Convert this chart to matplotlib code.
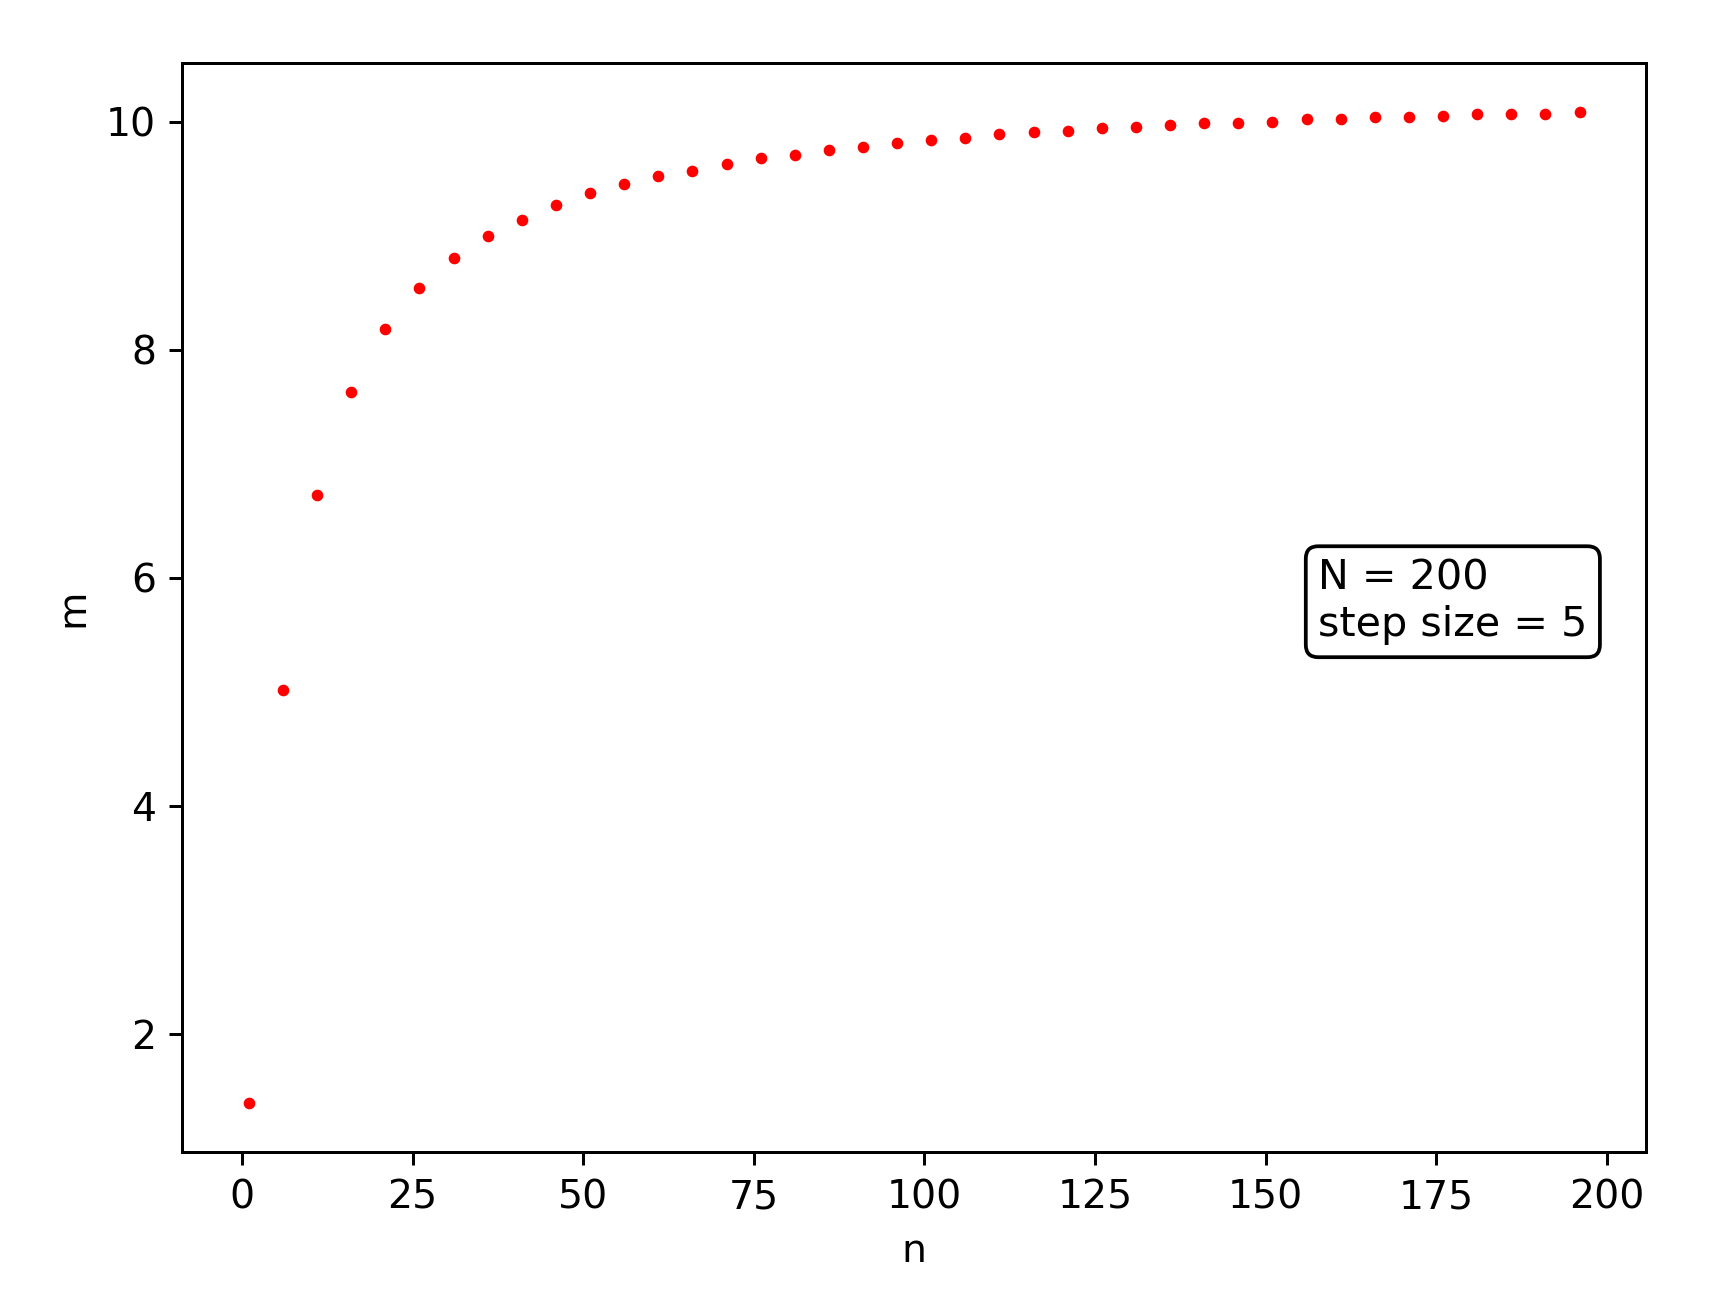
import matplotlib
matplotlib.use("Agg")
import matplotlib.pyplot as plt

n_values = list(range(1, 200, 5))
m_values = [1.4, 5.02, 6.73, 7.63, 8.18, 8.54, 8.8, 9.0, 9.14, 9.27, 9.37, 9.45, 9.52, 9.57,
            9.63, 9.68, 9.71, 9.75, 9.78, 9.81, 9.84, 9.86, 9.89, 9.91, 9.92, 9.94, 9.95,
            9.97, 9.99, 9.99, 10.0, 10.02, 10.02, 10.04, 10.04, 10.05, 10.07, 10.07, 10.07, 10.08]

dpi = 270
fig = plt.figure(figsize=(1720/dpi, 1311/dpi), dpi=dpi)
ax = fig.add_axes([0.106, 0.121, 0.851, 0.831])
ax.plot(n_values, m_values, 'r.', markersize=4.2)
ax.set_xlabel('n', fontsize=10.5)
ax.set_ylabel('m', fontsize=10.5)
ax.tick_params(labelsize=10.5)
ax.text(0.776, 0.545, 'N = 200\nstep size = 5', transform=ax.transAxes, va='top', ha='left',
        fontsize=11, bbox=dict(boxstyle='round,pad=0.3', facecolor='white', edgecolor='black'))
fig.savefig('out.png', dpi=dpi)
